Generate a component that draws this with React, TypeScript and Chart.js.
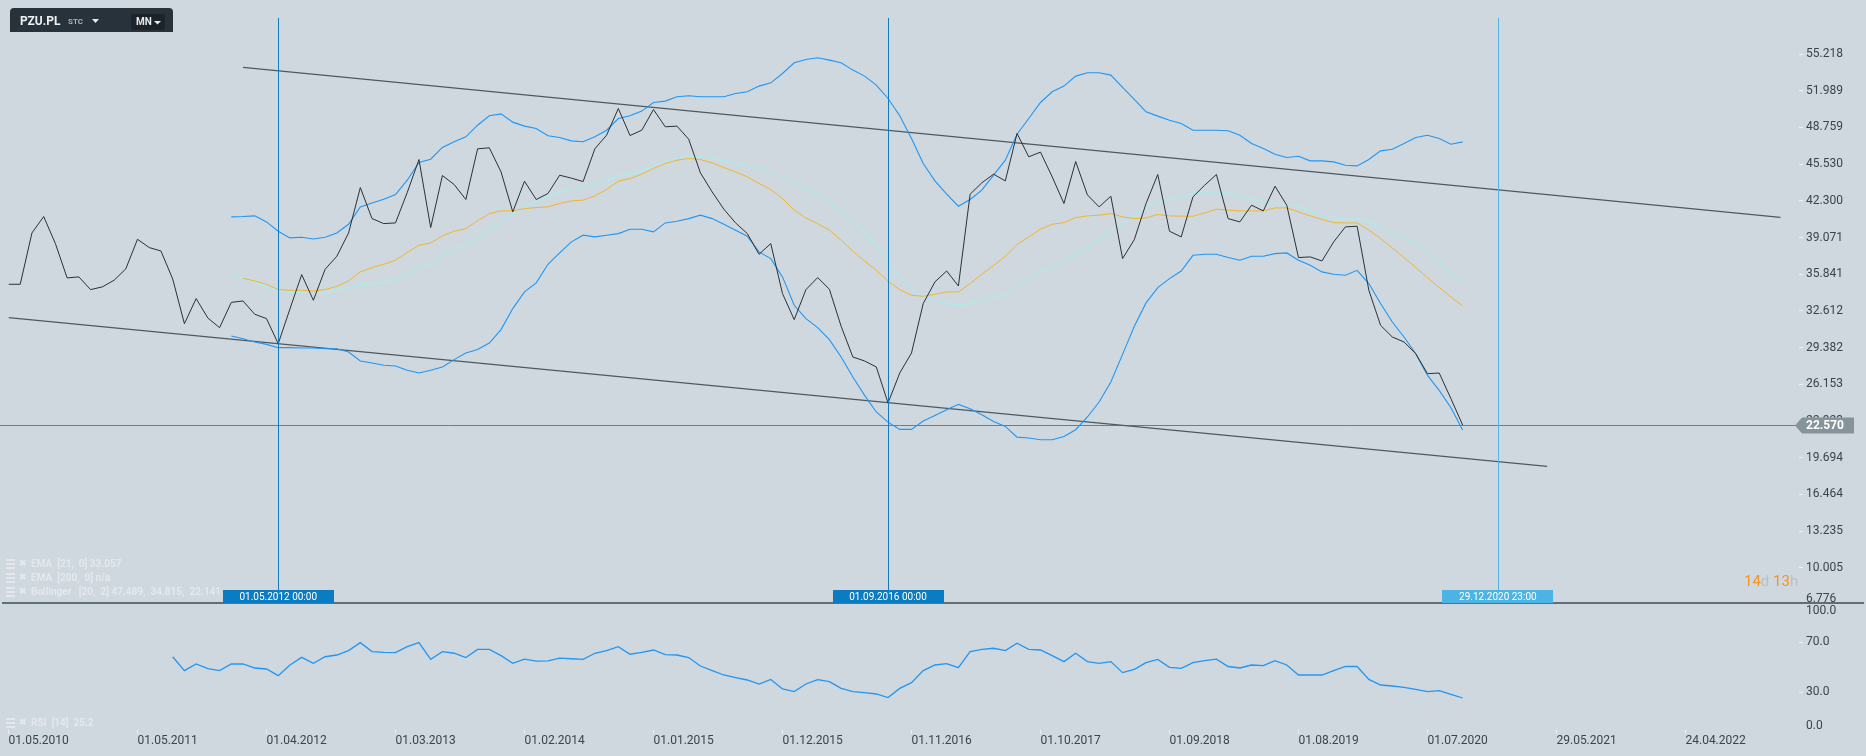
import React, { useEffect, useRef } from 'react';
import { Chart, registerables } from 'chart.js';

Chart.register(...registerables);

// ---------- DATA ----------
const xTickLabels = [
  '01.05.2010', '01.05.2011', '01.04.2012', '01.03.2013', '01.02.2014', '01.01.2015', '01.12.2015',
  '01.11.2016', '01.10.2017', '01.09.2018', '01.08.2019', '01.07.2020', '29.05.2021', '24.04.2022',
];
const barsPerTick = 11;

const priceStart = 0;
const price = [
  34.96, 34.96, 39.48, 40.92, 38.54, 35.52, 35.61, 34.49, 34.73, 35.31,
  36.31, 38.92, 38.19, 37.89, 35.43, 31.49, 33.70, 31.99, 31.14, 33.37,
  33.49, 32.32, 31.94, 29.73, 32.79, 35.81, 33.55, 36.28, 37.43, 39.48,
  43.47, 40.74, 40.30, 40.36, 43.03, 45.94, 39.95, 44.53, 43.74, 42.42,
  46.88, 46.97, 44.85, 41.33, 44.03, 42.42, 42.95, 44.56, 44.30, 44.00,
  46.88, 48.08, 50.43, 48.05, 48.52, 50.34, 48.82, 48.88, 47.73, 44.77,
  43.09, 41.57, 40.36, 39.42, 37.60, 38.54, 34.14, 31.85, 34.49, 35.55,
  34.52, 31.26, 28.56, 28.21, 27.68, 24.51, 27.15, 28.91, 33.26, 35.17,
  36.13, 34.81, 42.89, 43.89, 44.65, 44.06, 48.23, 46.18, 46.59, 44.41,
  42.07, 45.76, 42.83, 41.77, 42.71, 37.22, 38.89, 42.07, 44.62, 39.63,
  39.13, 42.65, 43.68, 44.62, 40.74, 40.45, 41.92, 41.42, 43.59, 41.92,
  37.31, 37.37, 37.01, 38.69, 40.01, 40.07, 34.43, 31.35, 30.32, 29.88,
  28.85, 27.09, 27.15, 24.89, 22.57,
];

const bbStart = 19;
const bbUpper = [
  40.89, 40.92, 40.98, 40.45, 39.63, 39.04, 39.10, 38.95, 39.10, 39.48,
  40.24, 41.77, 42.12, 42.45, 42.86, 44.12, 45.68, 45.97, 47.00, 47.50,
  47.94, 48.96, 49.79, 49.96, 49.23, 48.88, 48.67, 48.03, 47.88, 47.58,
  47.50, 47.94, 48.52, 49.55, 49.79, 50.20, 50.96, 51.08, 51.46, 51.55,
  51.46, 51.46, 51.46, 51.75, 51.90, 52.40, 52.69, 53.51, 54.45, 54.75,
  54.89, 54.69, 54.45, 53.81, 53.28, 52.49, 51.31, 49.79, 47.79, 45.59,
  44.06, 42.89, 41.83, 42.42, 43.24, 44.56, 45.88, 48.17, 49.55, 50.96,
  51.90, 52.40, 53.28, 53.57, 53.57, 53.37, 52.28, 51.23, 50.14, 49.76,
  49.40, 49.11, 48.52, 48.52, 48.52, 48.47, 48.08, 47.35, 46.91, 46.41,
  46.12, 46.23, 45.82, 45.82, 45.73, 45.44, 45.38, 45.94, 46.70, 46.85,
  47.35, 47.88, 48.08, 47.79, 47.29, 47.49,
];
const bbMiddle = [
  35.66, 35.52, 35.17, 34.73, 34.37, 34.22, 34.22, 34.14, 34.20, 34.43,
  34.64, 34.93, 35.02, 35.17, 35.31, 35.69, 36.43, 36.69, 37.45, 38.04,
  38.45, 39.04, 39.80, 40.45, 41.13, 41.77, 42.21, 42.71, 43.09, 43.30,
  43.44, 43.74, 44.06, 44.50, 44.62, 44.94, 45.38, 45.73, 46.03, 46.23,
  46.23, 46.03, 45.82, 45.59, 45.44, 45.15, 44.85, 44.35, 43.83, 43.33,
  42.95, 42.21, 41.33, 40.45, 39.57, 38.39, 37.01, 35.61, 34.58, 33.90,
  33.49, 33.26, 33.17, 33.26, 33.55, 33.79, 34.05, 34.73, 35.37, 36.05,
  36.49, 36.93, 37.60, 38.25, 38.95, 39.72, 40.36, 41.04, 41.77, 42.21,
  42.42, 42.65, 43.00, 43.09, 43.09, 43.00, 42.74, 42.45, 42.15, 42.07,
  42.01, 41.77, 41.42, 41.04, 40.80, 40.66, 40.74, 40.45, 40.01, 39.42,
  39.04, 38.48, 37.72, 36.93, 35.96, 34.82,
];
const bbLower = [
  30.41, 30.17, 29.88, 29.67, 29.38, 29.38, 29.35, 29.35, 29.29, 29.29,
  29.00, 28.21, 28.03, 27.83, 27.77, 27.39, 27.15, 27.39, 27.68, 28.33,
  28.91, 29.21, 29.79, 30.97, 32.82, 34.29, 35.08, 36.72, 37.72, 38.69,
  39.28, 39.13, 39.28, 39.42, 39.80, 39.80, 39.57, 40.36, 40.51, 40.74,
  41.04, 40.74, 40.24, 39.72, 39.19, 37.81, 37.22, 35.61, 33.11, 31.94,
  31.14, 30.09, 28.56, 26.80, 25.18, 23.72, 22.83, 22.19, 22.19, 22.92,
  23.42, 23.92, 24.39, 24.01, 23.48, 22.89, 22.45, 21.51, 21.43, 21.28,
  21.28, 21.57, 22.16, 23.28, 24.60, 26.36, 28.79, 31.26, 33.32, 34.67,
  35.46, 36.13, 37.51, 37.60, 37.60, 37.31, 37.07, 37.43, 37.43, 37.66,
  37.72, 37.07, 36.63, 36.05, 35.84, 35.75, 36.19, 35.02, 33.26, 31.64,
  30.32, 28.85, 26.94, 25.62, 24.10, 22.14,
];

const emaStart = 20;
const ema21 = [
  35.49, 35.25, 34.96, 34.49, 34.43, 34.43, 34.37, 34.49, 34.78, 35.25,
  36.05, 36.43, 36.72, 37.07, 37.75, 38.39, 38.60, 39.22, 39.63, 39.86,
  40.54, 41.18, 41.42, 41.42, 41.62, 41.71, 41.77, 42.07, 42.30, 42.36,
  42.74, 43.30, 44.03, 44.27, 44.65, 45.15, 45.59, 45.88, 46.03, 45.94,
  45.65, 45.23, 44.85, 44.41, 43.83, 43.30, 42.51, 41.48, 40.80, 40.30,
  39.72, 38.84, 37.87, 37.01, 36.19, 35.23, 34.49, 33.99, 33.90, 34.08,
  34.29, 34.29, 35.02, 35.84, 36.63, 37.43, 38.45, 39.13, 39.80, 40.24,
  40.39, 40.83, 40.98, 41.04, 41.18, 40.89, 40.74, 40.80, 41.10, 40.98,
  40.95, 40.95, 41.24, 41.57, 41.48, 41.42, 41.42, 41.42, 41.68, 41.68,
  41.33, 40.98, 40.66, 40.39, 40.36, 40.36, 39.72, 38.98, 38.16, 37.31,
  36.43, 35.55, 34.67, 33.85, 33.06,
];

const rsiStart = 14;
const rsi = [
  58.2, 47.1, 52.4, 48.7, 47.1, 52.4, 52.4, 49.2, 48.4, 43.1,
  51.6, 57.7, 52.9, 58.2, 59.6, 63.1, 69.5, 62.3, 61.7, 61.5,
  66.3, 69.5, 56.1, 62.3, 61.0, 57.6, 64.1, 64.1, 59.1, 52.9,
  56.3, 54.7, 54.9, 57.1, 56.6, 56.1, 61.0, 63.1, 66.3, 60.2,
  61.7, 63.6, 59.9, 59.6, 57.6, 50.8, 47.1, 43.6, 41.5, 39.6,
  36.4, 40.1, 32.4, 30.3, 36.4, 39.9, 38.3, 32.9, 30.3, 29.5,
  28.4, 25.5, 32.9, 37.5, 47.1, 51.6, 52.7, 49.5, 62.3, 64.1,
  65.0, 63.1, 69.0, 64.1, 63.6, 59.1, 54.3, 61.0, 54.3, 52.9,
  54.3, 45.5, 48.1, 53.5, 56.1, 49.7, 48.9, 53.5, 55.1, 56.3,
  50.4, 49.2, 51.6, 51.1, 55.1, 51.6, 43.6, 43.6, 43.6, 47.1,
  50.4, 50.4, 40.1, 35.6, 34.8, 33.7, 32.1, 30.3, 31.1, 28.1,
  25.2,
];

const upperTrendX = [20.0, 151.1];
const upperTrendY = [54.05, 40.84];
const lowerTrendX = [0, 131.2];
const lowerTrendY = [32.03, 18.93];

const priceTicks = [
  6.776, 10.005, 13.235, 16.464, 19.694, 22.923, 26.153, 29.382,
  32.612, 35.841, 39.071, 42.3, 45.53, 48.759, 51.989, 55.218,
];
const priceMin = 6.776;
const priceMax = 58.448;
const rsiTicks = [0, 30, 70, 100];
const lastPrice = 22.57;

const markerIdx = [23, 75, 127];
const markerLabels = ['01.05.2012 00:00', '01.09.2016 00:00', '29.12.2020 23:00'];

const symbolName = 'PZU.PL';
const symbolType = 'STC';
const intervalName = 'MN';
const countdown = ['14', 'd', ' 13', 'h'];
const legendLines = [
  'EMA  [21,  0] 33.057',
  'EMA  [200,  0] n/a',
  'Bollinger   [20,  2] 47.489,  34.815,  22.141',
];
const rsiLegend = 'RSI  [14]  25.2';

// ---------- STYLE ----------
const BG = '#cfd8de';
const FONT = 'Roboto, "Noto Sans", sans-serif';
const AXIS_TEXT = '#3b444b';
const TICK_MARK = '#eef2f4';
const X_MAX = 152.68;

const pts = (start: number, arr: number[]) => arr.map((v, i) => ({ x: start + i, y: v }));
const pairPts = (xs: number[], ys: number[]) => xs.map((x, i) => ({ x, y: ys[i] }));

const overlayPlugin = {
  id: 'overlay',
  beforeDraw(chart: any) {
    const { ctx, width, height } = chart;
    ctx.save();
    ctx.fillStyle = BG;
    ctx.fillRect(0, 0, width, height);
    ctx.restore();
  },
  beforeDatasetsDraw(chart: any) {
    const { ctx } = chart;
    const ys = chart.scales.y;
    const y = Math.round(ys.getPixelForValue(lastPrice)) + 0.5;
    ctx.save();
    ctx.strokeStyle = '#6f7c85';
    ctx.lineWidth = 1;
    ctx.beginPath();
    ctx.moveTo(0, y);
    ctx.lineTo(ys.left, y);
    ctx.stroke();
    ctx.restore();
  },
  afterDatasetsDraw(chart: any) {
    const { ctx, chartArea } = chart;
    const xs = chart.scales.x;
    const ys = chart.scales.y;
    const boxTop = ys.bottom - 14.5;
    ctx.save();
    markerIdx.forEach((idx, i) => {
      const x = Math.round(xs.getPixelForValue(idx)) + 0.5;
      ctx.strokeStyle = i === 2 ? '#55b5e6' : '#1479bd';
      ctx.lineWidth = 1;
      ctx.beginPath();
      ctx.moveTo(x, chartArea.top + 0.5);
      ctx.lineTo(x, boxTop);
      ctx.stroke();
    });
    ctx.restore();
  },
  afterDraw(chart: any) {
    const { ctx } = chart;
    const xs = chart.scales.x;
    const ys = chart.scales.y;
    const rs = chart.scales.rsi;
    ctx.save();

    // divider between panes
    const divY = ys.bottom - 1.5;
    ctx.strokeStyle = '#3f4a52';
    ctx.lineWidth = 1.5;
    ctx.beginPath();
    ctx.moveTo(2, divY);
    ctx.lineTo(1864, divY);
    ctx.stroke();

    // legends
    const drawLegend = (text: string, y: number) => {
      ctx.fillStyle = 'rgba(236,240,243,0.7)';
      ctx.fillRect(6, y - 5, 9, 2);
      ctx.fillRect(6, y - 1, 9, 2);
      ctx.fillRect(6, y + 3, 9, 2);
      ctx.font = `bold 9px ${FONT}`;
      ctx.textAlign = 'left';
      ctx.textBaseline = 'middle';
      ctx.fillText('\u2716', 19, y);
      ctx.font = `bold 10px ${FONT}`;
      ctx.fillText(text, 31, y);
    };
    const legY0 = ys.bottom - 40.5;
    legendLines.forEach((t, i) => drawLegend(t, legY0 + i * 14));
    drawLegend(rsiLegend, rs.bottom - 6.5);

    // date boxes
    markerIdx.forEach((idx, i) => {
      const x = xs.getPixelForValue(idx);
      ctx.fillStyle = i === 2 ? '#4cb4e4' : '#0a7cc1';
      ctx.fillRect(Math.round(x - 55.5), Math.round(ys.bottom - 14.5), 111, 13);
      ctx.fillStyle = '#ffffff';
      ctx.font = `10px ${FONT}`;
      ctx.textAlign = 'center';
      ctx.textBaseline = 'middle';
      ctx.fillText(markerLabels[i], x, ys.bottom - 7.5);
    });

    // edge axis labels
    ctx.fillStyle = AXIS_TEXT;
    ctx.font = `12px ${FONT}`;
    ctx.textAlign = 'left';
    ctx.textBaseline = 'middle';
    const lx = ys.left + 7;
    ctx.fillText(priceMin.toFixed(3), lx, ys.bottom - 5.5);
    ctx.fillText(rsiTicks[3].toFixed(1), lx, rs.top + 6.5);
    ctx.fillText(rsiTicks[0].toFixed(1), lx, rs.bottom - 3.5);

    // last price label
    const py = ys.getPixelForValue(lastPrice) + 0.5;
    const tip = ys.left - 4;
    ctx.fillStyle = '#87939a';
    ctx.beginPath();
    ctx.moveTo(tip, py);
    ctx.lineTo(tip + 7, py - 8);
    ctx.lineTo(1854, py - 8);
    ctx.lineTo(1854, py + 8);
    ctx.lineTo(tip + 7, py + 8);
    ctx.closePath();
    ctx.fill();
    ctx.fillStyle = '#ffffff';
    ctx.font = `bold 12px ${FONT}`;
    ctx.fillText(lastPrice.toFixed(3), ys.left + 7, py + 0.5);

    // countdown
    ctx.font = `15px ${FONT}`;
    let cx = 1744;
    countdown.forEach((t, i) => {
      ctx.fillStyle = i % 2 === 0 ? '#f5941e' : '#b9c1c6';
      ctx.fillText(t, cx, 582);
      cx += ctx.measureText(t).width;
    });

    // toolbar
    ctx.fillStyle = '#28323a';
    ctx.beginPath();
    (ctx as any).roundRect(10, 8, 163, 24, [4, 4, 0, 0]);
    ctx.fill();
    ctx.fillStyle = '#1c242a';
    ctx.beginPath();
    (ctx as any).roundRect(131, 14, 34, 16, 2);
    ctx.fill();
    ctx.fillStyle = '#eef1f3';
    ctx.font = `bold 12px ${FONT}`;
    ctx.textBaseline = 'middle';
    ctx.fillText(symbolName, 20, 22);
    ctx.fillStyle = '#aab4bb';
    ctx.font = `bold 8px ${FONT}`;
    ctx.fillText(symbolType, 68, 22);
    ctx.fillStyle = '#e6eaed';
    ctx.beginPath();
    ctx.moveTo(92, 19); ctx.lineTo(99, 19); ctx.lineTo(95.5, 23); ctx.closePath();
    ctx.fill();
    ctx.font = `bold 10px ${FONT}`;
    ctx.fillText(intervalName, 136, 22.5);
    ctx.beginPath();
    ctx.moveTo(154, 21); ctx.lineTo(161, 21); ctx.lineTo(157.5, 24.5); ctx.closePath();
    ctx.fill();

    ctx.restore();
  },
};

export default function App() {
  const canvasRef = useRef<HTMLCanvasElement | null>(null);

  useEffect(() => {
    const canvas = canvasRef.current;
    if (!canvas) return;
    const lineDs = (label: string, data: any[], color: string, width: number, axis = 'y') => ({
      label,
      data,
      borderColor: color,
      borderWidth: width,
      pointRadius: 0,
      pointHoverRadius: 0,
      fill: false,
      tension: 0,
      yAxisID: axis,
    });

    const chart = new Chart(canvas, {
      type: 'line',
      data: {
        datasets: [
          lineDs('PZU.PL', pts(priceStart, price), '#2a3137', 1),
          lineDs('EMA 21', pts(emaStart, ema21), '#f2b531', 1),
          lineDs('BB upper', pts(bbStart, bbUpper), '#2196f3', 1.1),
          lineDs('BB lower', pts(bbStart, bbLower), '#2196f3', 1.1),
          lineDs('BB middle', pts(bbStart, bbMiddle), '#a8eeec', 1.1),
          lineDs('Upper trend', pairPts(upperTrendX, upperTrendY), '#4d5961', 1.2),
          lineDs('Lower trend', pairPts(lowerTrendX, lowerTrendY), '#4d5961', 1.2),
          lineDs('RSI 14', pts(rsiStart, rsi), '#2196f3', 1.3, 'rsi'),
        ] as any,
      },
      options: {
        animation: false,
        responsive: false,
        maintainAspectRatio: false,
        devicePixelRatio: 1,
        events: [],
        layout: { padding: { top: 17.4, left: 8.5, right: 0, bottom: 0 } },
        plugins: {
          legend: { display: false },
          tooltip: { enabled: false },
          title: { display: false },
        },
        scales: {
          x: {
            type: 'linear',
            position: 'bottom',
            min: 0,
            max: X_MAX,
            afterBuildTicks: (s: any) => {
              s.ticks = xTickLabels.map((_, i) => ({ value: i * barsPerTick }));
            },
            afterFit: (s: any) => {
              s.height = 26.5;
            },
            ticks: {
              autoSkip: false,
              maxRotation: 0,
              minRotation: 0,
              align: 'start',
              padding: 0,
              color: AXIS_TEXT,
              font: { family: FONT, size: 12 },
              callback: (_v: any, i: number) => xTickLabels[i],
            },
            grid: { drawOnChartArea: false, tickLength: 4, tickColor: TICK_MARK },
            border: { display: false },
          },
          y: {
            type: 'linear',
            position: 'right',
            stack: 'panes',
            stackWeight: 587.1,
            min: priceMin,
            max: priceMax,
            afterBuildTicks: (s: any) => {
              s.ticks = priceTicks.map((v) => ({ value: v }));
            },
            afterFit: (s: any) => {
              s.width = 67;
            },
            ticks: {
              padding: 3,
              color: AXIS_TEXT,
              font: { family: FONT, size: 12 },
              callback: (v: any) => (v === priceMin ? '' : Number(v).toFixed(3)),
            },
            grid: {
              drawOnChartArea: false,
              tickLength: 4,
              tickColor: (c: any) => (c.tick && c.tick.value === priceMin ? 'rgba(0,0,0,0)' : TICK_MARK),
            },
            border: { display: false },
          },
          rsi: {
            type: 'linear',
            position: 'right',
            stack: 'panes',
            stackWeight: 125,
            min: 0,
            max: 100,
            afterBuildTicks: (s: any) => {
              s.ticks = rsiTicks.map((v) => ({ value: v }));
            },
            afterFit: (s: any) => {
              s.width = 67;
            },
            ticks: {
              padding: 3,
              color: AXIS_TEXT,
              font: { family: FONT, size: 12 },
              callback: (v: any) => (v === 0 || v === 100 ? '' : Number(v).toFixed(1)),
            },
            grid: {
              drawOnChartArea: false,
              tickLength: 4,
              tickColor: (c: any) =>
                c.tick && (c.tick.value === 0 || c.tick.value === 100) ? 'rgba(0,0,0,0)' : TICK_MARK,
            },
            border: { display: false },
          },
        },
      } as any,
      plugins: [overlayPlugin],
    });
    return () => chart.destroy();
  }, []);

  return (
    <div style={{ position: 'fixed', left: 0, top: 0, width: 1866, height: 756, background: BG }}>
      <canvas ref={canvasRef} width={1866} height={756} style={{ display: 'block', width: 1866, height: 756 }} />
    </div>
  );
}
